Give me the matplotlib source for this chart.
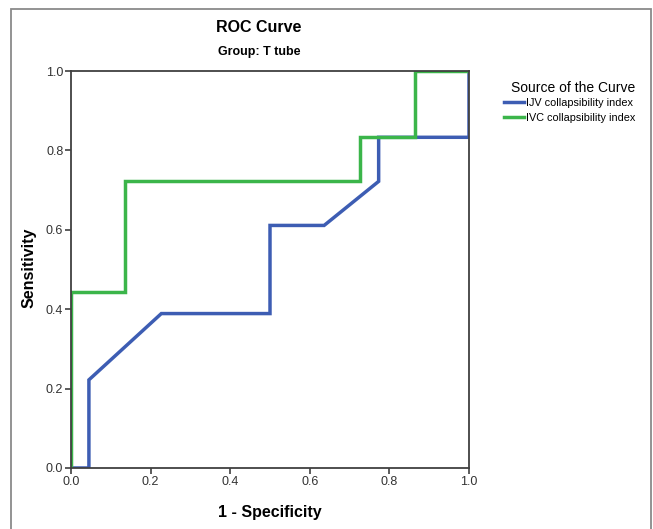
import matplotlib
matplotlib.use("Agg")
import matplotlib.pyplot as plt
from matplotlib.patches import Rectangle

plt.rcParams['font.family'] = ['Liberation Sans', 'DejaVu Sans']

# ROC points (1 - specificity, sensitivity)
ijv_fpr = [0.0, 0.045, 0.045, 0.227, 0.5, 0.5, 0.636, 0.773, 0.773, 1.0, 1.0]
ijv_tpr = [0.0, 0.0, 0.222, 0.389, 0.389, 0.611, 0.611, 0.722, 0.833, 0.833, 1.0]
ivc_fpr = [0.0, 0.0, 0.136, 0.136, 0.727, 0.727, 0.864, 0.864, 1.0]
ivc_tpr = [0.0, 0.444, 0.444, 0.722, 0.722, 0.833, 0.833, 1.0, 1.0]
ticks = [0.0, 0.2, 0.4, 0.6, 0.8, 1.0]

W, H = 653, 529
fig = plt.figure(figsize=(W / 100, H / 100), dpi=100)

# outer grey frame
fig.add_artist(Rectangle((11 / W, -0.05), 640 / W, 1.05 - 9 / H, transform=fig.transFigure,
                         fill=False, edgecolor='#8a8a8a', linewidth=1.3))

ax = fig.add_axes([71 / W, (H - 468) / H, 398 / W, 397 / H])
ax.plot(ijv_fpr, ijv_tpr, color='#3d5db3', linewidth=2.5, label='IJV collapsibility index',
        solid_joinstyle='miter')
ax.plot(ivc_fpr, ivc_tpr, color='#3bb54a', linewidth=2.5, label='IVC collapsibility index',
        solid_joinstyle='miter')

ax.set_xlim(0, 1)
ax.set_ylim(0, 1)
ax.set_xticks(ticks)
ax.set_yticks(ticks)
ax.set_xticklabels([f"{t:.1f}" for t in ticks])
ax.set_yticklabels([f"{t:.1f}" for t in ticks])
ax.tick_params(direction='out', length=4, width=1.2, color='#404040', labelsize=9,
               labelcolor='#333333', pad=1.5)
for s in ax.spines.values():
    s.set_color('#404040')
    s.set_linewidth(1.3)

ax.set_xlabel('1 - Specificity', fontsize=11.5, fontweight='bold')
ax.set_ylabel('Sensitivity', fontsize=11.5, fontweight='bold')
ax.xaxis.set_label_coords((270 - 71) / 398, -(512 - 468) / 397)
ax.yaxis.set_label_coords(-(71 - 29.5) / 398, (468 - 268) / 397)
ax.xaxis.label.set_va('center')
ax.yaxis.label.set_va('center')

fig.text(259 / W, 1 - 27 / H, 'ROC Curve', ha='center', va='center', fontsize=11.5, fontweight='bold')
fig.text(259 / W, 1 - 52 / H, 'Group: T tube', ha='center', va='center', fontsize=9, fontweight='bold')

leg = fig.legend(loc='upper left', bbox_to_anchor=(499 / W, 1 - 76 / H), frameon=False,
                 title='Source of the Curve', fontsize=7.8, title_fontsize=10,
                 handlelength=1.8, handletextpad=0.15, labelspacing=0.4, borderpad=0)
leg._legend_box.align = 'right'
leg._legend_box.sep = 2

fig.savefig('out.png', dpi=100)
